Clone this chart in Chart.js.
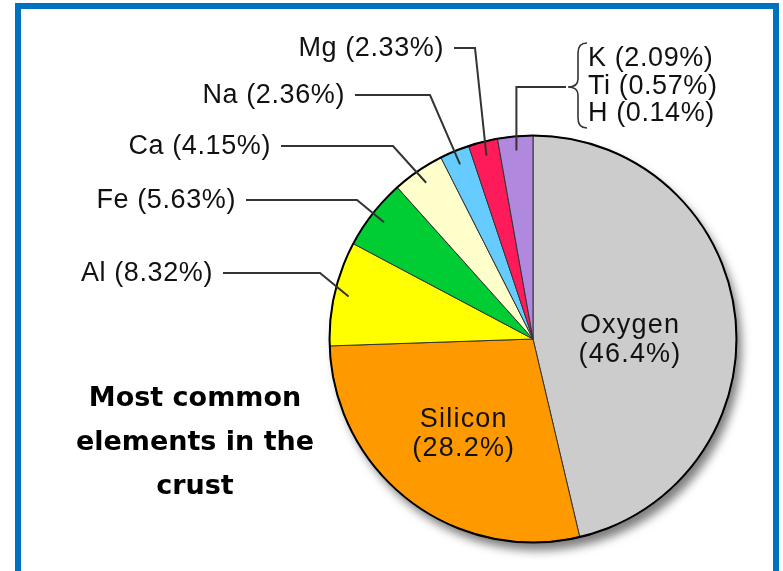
<!DOCTYPE html>
<html>
<head>
<meta charset="utf-8">
<script src="https://cdn.jsdelivr.net/npm/chart.js@4"></script>
<style>
  body { margin: 0; background: #fff; }
  #wrap { position: relative; width: 783px; height: 571px; overflow: hidden; }
  #frame {
    position: absolute; left: 15px; top: 3px; width: 764px; height: 640px;
    box-sizing: border-box; border: 6px solid #0070c0; pointer-events: none;
  }
</style>
</head>
<body>
<div id="wrap">
  <canvas id="myChart" width="783" height="571"></canvas>
  <div id="frame"></div>
</div>
<script>
  // crust composition, % by weight
  const elements = ["Oxygen", "Silicon", "Al", "Fe", "Ca", "Na", "Mg", "K, Ti, H"];
  const groupNames = ["K", "Ti", "H"];
  const groupValues = [2.09, 0.57, 0.14];
  const values = [46.4, 28.2, 8.32, 5.63, 4.15, 2.36, 2.33, groupValues.reduce((a, b) => a + b, 0)];
  const colors = ['#cccccc', '#ff9900', '#ffff00', '#00cc33', '#ffffcc', '#66ccff', '#ff1a5a', '#b088dd'];
  const titleLines = ["Most common", "elements in the", "crust"];

  // outside labels: index -> [text right x, y, elbow x]
  const outside = {
    6: [444, 48, 475],
    5: [345, 95, 430],
    4: [271, 146, 393],
    3: [236, 200, 357],
    2: [213, 273, 320]
  };

  const labelFont = '27px "Liberation Sans", Arial, sans-serif';

  const decor = {
    id: 'decor',
    beforeDatasetsDraw(chart) {
      const arc = chart.getDatasetMeta(0).data[0];
      const ctx = chart.ctx;
      ctx.save();
      ctx.shadowColor = 'rgba(0,0,0,0.5)';
      ctx.shadowBlur = 10;
      ctx.shadowOffsetX = 5;
      ctx.shadowOffsetY = 8;
      ctx.fillStyle = '#fff';
      ctx.beginPath();
      ctx.arc(arc.x, arc.y, arc.outerRadius, 0, Math.PI * 2);
      ctx.fill();
      ctx.restore();
    },
    afterDatasetsDraw(chart) {
      const arcs = chart.getDatasetMeta(0).data;
      const ctx = chart.ctx;
      const cx = arcs[0].x, cy = arcs[0].y, r = arcs[0].outerRadius;
      const at = (i, f) => {
        const a = (arcs[i].startAngle + arcs[i].endAngle) / 2;
        return [cx + Math.cos(a) * r * f, cy + Math.sin(a) * r * f];
      };

      ctx.save();
      // outline
      ctx.strokeStyle = '#000';
      ctx.lineWidth = 2;
      ctx.beginPath();
      ctx.arc(cx, cy, r, 0, Math.PI * 2);
      ctx.stroke();

      // leader lines + labels
      ctx.strokeStyle = '#333';
      ctx.lineWidth = 2;
      ctx.fillStyle = '#111';
      ctx.font = labelFont;
      ctx.letterSpacing = '0.6px';
      ctx.textBaseline = 'middle';
      ctx.textAlign = 'right';
      Object.keys(outside).forEach(k => {
        const i = +k;
        const [tx, ty, ex] = outside[i];
        const [px, py] = at(i, 0.93);
        ctx.beginPath();
        ctx.moveTo(tx + 10, ty);
        ctx.lineTo(ex, ty);
        ctx.lineTo(px, py);
        ctx.stroke();
        ctx.fillText(elements[i] + ' (' + values[i] + '%)', tx, ty + 1);
      });

      // grouped slice: vertical line, brace, three rows
      const [gx, gy] = at(7, 0.93);
      ctx.beginPath();
      ctx.moveTo(gx, gy);
      ctx.lineTo(gx, 87);
      ctx.lineTo(566, 87);
      ctx.stroke();
      ctx.lineWidth = 1.6;
      ctx.beginPath();
      ctx.moveTo(587, 43);
      ctx.quadraticCurveTo(578, 43, 578, 53);
      ctx.lineTo(578, 79);
      ctx.quadraticCurveTo(578, 87, 568, 87);
      ctx.quadraticCurveTo(578, 87, 578, 95);
      ctx.lineTo(578, 118);
      ctx.quadraticCurveTo(578, 128, 587, 128);
      ctx.stroke();
      ctx.textAlign = 'left';
      groupNames.forEach((n, j) => {
        ctx.fillText(n + ' (' + groupValues[j] + '%)', 588, 59 + j * 27.5);
      });

      // inside labels: [index, radius fraction, y nudge]
      ctx.textAlign = 'center';
      ctx.letterSpacing = '1.2px';
      [[0, 0.48, 12], [1, 0.56, 4]].forEach(([i, f, dy]) => {
        const [px, py] = at(i, f);
        ctx.fillText(elements[i], px, py + dy - 14);
        ctx.fillText('(' + values[i] + '%)', px, py + dy + 15);
      });

      // title
      ctx.letterSpacing = '0px';
      ctx.fillStyle = '#000';
      ctx.font = 'bold 27px "DejaVu Sans", Verdana, sans-serif';
      titleLines.forEach((t, j) => ctx.fillText(t, 195, 399 + j * 44));
      ctx.restore();
    }
  };

  const data = {
    labels: elements,
    datasets: [{
      data: values,
      backgroundColor: colors,
      borderColor: '#333',
      borderWidth: 1
    }]
  };

  const config = {
    type: 'pie',
    data: data,
    options: {
      responsive: false,
      animation: false,
      layout: {
        padding: { left: 329, top: 135, right: 46, bottom: 28 }
      },
      plugins: {
        legend: { display: false },
        tooltip: { enabled: false }
      }
    },
    plugins: [decor]
  };

  const myChart = new Chart(
    document.getElementById('myChart'),
    config
  );
</script>
</body>
</html>
